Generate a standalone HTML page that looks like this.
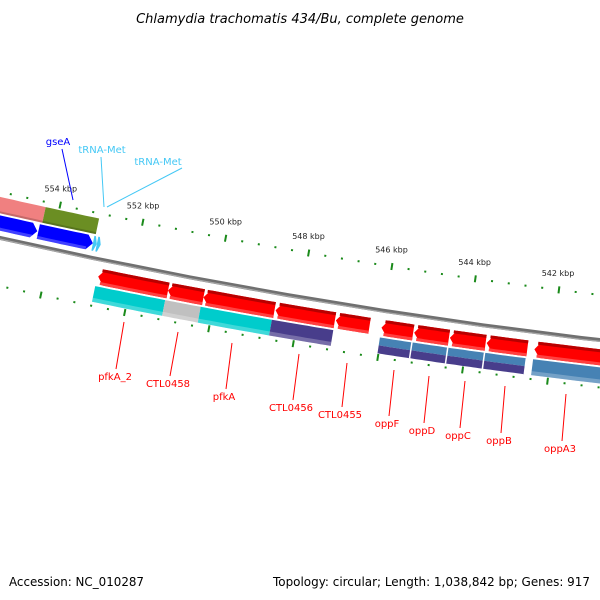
<!DOCTYPE html>
<html><head><meta charset="utf-8"><style>
html,body{margin:0;padding:0;background:#fff;}
svg{display:block;}
text{font-family:"DejaVu Sans","Liberation Sans",sans-serif;}
</style></head><body>
<svg id="map" width="600" height="600" viewBox="0 0 600 600">
<text x="300" y="23" text-anchor="middle" font-size="13" font-style="italic" fill="#000">Chlamydia trachomatis 434/Bu, complete genome</text>
<text x="9" y="586" font-size="12" fill="#000" textLength="135" lengthAdjust="spacingAndGlyphs">Accession: NC_010287</text>
<text x="590" y="586" text-anchor="end" font-size="12" fill="#000" textLength="317" lengthAdjust="spacingAndGlyphs">Topology: circular; Length: 1,038,842 bp; Genes: 917</text>
<g id="layer" transform="translate(0,2)"></g>
</svg>
<script>
// ---- data ----
const tickStart = 538000;
const tickEnd = 558000;
const tickStep = 400;
const majorStep = 2000;
const revNames = ["gene-r1","gene-r2","gene-r3","gene-r4","gene-r5","gene-r6","gene-r7","gene-r8","gene-r9","gene-r10"];
const revStart = [552775,551105,550258,548540,547105,546022,545246,544399,543528,542399];
const revEnd   = [551105,550258,548564,547128,546305,545269,544422,543552,542564,536000];
const row2Start = [552799,551128,550281,548587,546022,545246,544399,543528,542399];
const row2End   = [551128,550281,548587,547128,545269,544422,543552,542564,536000];
const row2Color = ["#00cccc","#c0c0c0","#00cccc","#483d8b","split","split","split","split","#4682b4"];
const fwdOuterStart = [556700,554327];
const fwdOuterEnd   = [554327,553033];
const fwdOuterColor = ["#f08080","#6b8e23"];
const fwdArrowStart = [556700,554374,553057,552963];
const fwdArrowEnd   = [554398,553057,552963,552869];
const fwdArrowColor = ["#0000ff","#0000ff","#44c8f5","#44c8f5"];
const redLabels = ["pfkA_2","CTL0458","pfkA","CTL0456","CTL0455","oppF","oppD","oppC","oppB","oppA3"];
const redLabelX = [115,168,224,291,340,387,422,458,499,560];
const redLabelY = [378,385,398,409,416,425,432,437,442,450];
const redLineTop = [[124,320],[178,330],[232,341],[299,352],[347,361],[394,368],[429,374],[465,379],[505,384],[566,392]];

// ---- geometry ----
const C=[1271,-5410], R0=5787.2, phi0=Math.atan2(5719,-886), K=85/2000/R0;
function P(bp,off){const a=phi0+(bp-546000)*K, r=R0+off;return [C[0]+r*Math.cos(a),C[1]+r*Math.sin(a)];}
function arc(b1,b2,off){const n=12,pts=[];for(let i=0;i<=n;i++)pts.push(P(b1+(b2-b1)*i/n,off));return pts;}
function poly(pts){return pts.map(p=>p[0].toFixed(1)+","+p[1].toFixed(1)).join(" ");}
const NS="http://www.w3.org/2000/svg";
const layer=document.getElementById("layer");
function mk(tag,attrs,name){const e=document.createElementNS(NS,tag);for(const k in attrs)e.setAttribute(k,attrs[k]);


layer.appendChild(e);return e;}
function box(b1,b2,o1,o2,fill,name){return mk("polygon",{points:poly(arc(b1,b2,o1).concat(arc(b2,b1,o2))),fill:fill},name);}
const HEAD=6*23.53;
function arrowLeft(b1,b2,o1,o2,fill,name){
 const m=(o1+o2)/2, hb=b1-HEAD;
 const pts=[P(b1,m)].concat(arc(hb,b2,o1)).concat(arc(b2,hb,o2));
 return mk("polygon",{points:poly(pts),fill:fill},name);}
function arrowRight(b1,b2,o1,o2,fill,name){
 const m=(o1+o2)/2, hb=b2+Math.min(HEAD,(b1-b2)*0.6);
 const pts=arc(b1,hb,o1).concat([P(b2,m)]).concat(arc(hb,b1,o2));
 return mk("polygon",{points:poly(pts),fill:fill},name);}

mk("polyline",{points:poly(arc(560000,532000,0)),fill:"none",stroke:"#707070","stroke-width":4},"backbone");
mk("polyline",{points:poly(arc(560000,532000,1.3)),fill:"none",stroke:"#a8a8a8","stroke-width":1.2},"backbone-highlight");

for(let bp=tickStart;bp<=tickEnd;bp+=tickStep){
 const major=(bp%majorStep===0);
 [-45,47].forEach(o=>{
  const a=P(bp,o-(major?3.5:1)), b=P(bp,o+(major?3.5:1));
  mk("line",{x1:a[0],y1:a[1],x2:b[0],y2:b[1],stroke:"#1a8a1a","stroke-width":2},major?"major-tick":"minor-tick");
 });
 if(major){const p=P(bp,-62);
  const t=mk("text",{x:(p[0]-3).toFixed(1),y:(p[1]+3).toFixed(1),"text-anchor":"middle","font-size":"8",fill:"#222"},"tick-label");
  t.textContent=(bp/1000)+" kbp";}
}

for(let i=0;i<fwdOuterStart.length;i++){
 box(fwdOuterStart[i],fwdOuterEnd[i],-40,-24,fwdOuterColor[i],"forward-feature");
 box(fwdOuterStart[i],fwdOuterEnd[i],-26,-24,"rgba(0,0,0,0.18)","forward-feature-shade");
}
for(let i=0;i<fwdArrowStart.length;i++){
 arrowRight(fwdArrowStart[i],fwdArrowEnd[i],-22,-7,fwdArrowColor[i],"forward-gene-arrow");
}
box(fwdArrowStart[0],fwdArrowEnd[0]+100,-10,-7,"rgba(255,255,255,0.25)","forward-arrow-shade");
box(fwdArrowStart[1],fwdArrowEnd[1]+140,-10,-7,"rgba(255,255,255,0.25)","forward-arrow-shade");

for(let i=0;i<revStart.length;i++){
 arrowLeft(revStart[i],revEnd[i],9,25,"#ff0000",revNames[i]);
 box(revStart[i]-HEAD*0.5,revEnd[i],9,12,"#b80000","gene-top-shade");
 box(revStart[i]-HEAD*0.5,revEnd[i],22,25,"#ff4040","gene-bottom-shade");
}
for(let i=0;i<row2Start.length;i++){
 if(row2Color[i]==="split"){
  box(row2Start[i],row2End[i],27,35,"#4682b4","cds-top-half");
  box(row2Start[i],row2End[i],35,43,"#483d8b","cds-bottom-half");
  const a=P(row2End[i],27),b=P(row2End[i],43);
  mk("line",{x1:a[0],y1:a[1],x2:b[0],y2:b[1],stroke:"#fff","stroke-width":1},"cds-divider");
 } else {
  box(row2Start[i],row2End[i],27,43,row2Color[i],"cds-feature");
  box(row2Start[i],row2End[i],39,43,"rgba(255,255,255,0.25)","cds-shade");
 }
}

for(let i=0;i<redLabels.length;i++){
 mk("line",{x1:redLineTop[i][0],y1:redLineTop[i][1],x2:redLabelX[i]+(i===0?1:2),y2:redLabelY[i]-11,stroke:"#ff0000","stroke-width":1},"label-leader");
 const t=mk("text",{x:redLabelX[i],y:redLabelY[i],"text-anchor":"middle","font-size":"10",fill:"#ff0000"},"gene-label");
 t.textContent=redLabels[i];
}
const bl=[["gseA",58,143,"#0000ff",[62,147,73,198]],["tRNA-Met",102,151,"#44c8f5",[101,155,104,205]],["tRNA-Met",158,163,"#44c8f5",[182,166,107,205]]];
bl.forEach(l=>{
 mk("line",{x1:l[4][0],y1:l[4][1],x2:l[4][2],y2:l[4][3],stroke:l[3],"stroke-width":1},"label-leader");
 const t=mk("text",{x:l[1],y:l[2],"text-anchor":"middle","font-size":"10",fill:l[3]},"gene-label");
 t.textContent=l[0];
});
</script>
</body></html>
